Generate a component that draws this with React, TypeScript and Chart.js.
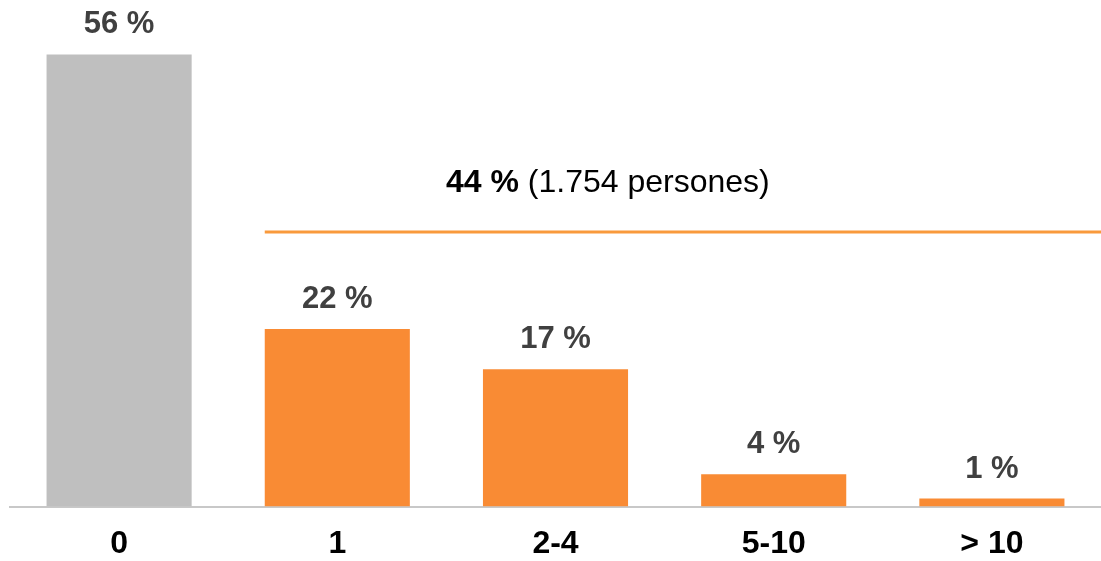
import React, { useEffect, useRef } from "react";
import { Chart, registerables } from "chart.js";

Chart.register(...registerables);

const categories = ["0", "1", "2-4", "5-10", "> 10"];
const shares = [56, 22, 17, 4, 1];
const barColors = ["#BFBFBF", "#F98B34", "#F98B34", "#F98B34", "#F98B34"];
const groupShare = 44;
const groupPersons = "1.754";
const groupLineLevel = 34;
const groupTextCenter = 2.24;

const FONT = "'Liberation Sans', Arial, sans-serif";

const labelPlugin = {
  id: "valueLabels",
  afterDatasetsDraw(chart: any) {
    const ctx = chart.ctx;
    const meta = chart.getDatasetMeta(0);
    ctx.save();
    ctx.font = `bold 31px ${FONT}`;
    ctx.fillStyle = "#404040";
    ctx.textAlign = "center";
    ctx.textBaseline = "alphabetic";
    meta.data.forEach((el: any, i: number) => {
      ctx.fillText(`${shares[i]} %`, el.x, el.y - 21);
    });
    ctx.restore();
  },
};

const groupPlugin = {
  id: "groupLine",
  afterDatasetsDraw(chart: any) {
    const ctx = chart.ctx;
    const meta = chart.getDatasetMeta(0);
    const first = meta.data[1];
    const xs = chart.scales.x;
    const ys = chart.scales.y;
    const y = ys.getPixelForValue(groupLineLevel);
    const x0 = first.x - first.width / 2;
    const x1 = chart.chartArea.right;
    ctx.save();
    ctx.strokeStyle = "#F99A3C";
    ctx.lineWidth = 3;
    ctx.beginPath();
    ctx.moveTo(x0, y);
    ctx.lineTo(x1, y);
    ctx.stroke();

    const boldPart = `${groupShare} %`;
    const regPart = ` (${groupPersons} persones)`;
    ctx.font = `bold 32px ${FONT}`;
    const wb = ctx.measureText(boldPart).width;
    ctx.font = `32px ${FONT}`;
    const wr = ctx.measureText(regPart).width;
    const cx = xs.getPixelForValue(groupTextCenter);
    const left = cx - (wb + wr) / 2;
    const ty = y - 40;
    ctx.fillStyle = "#000000";
    ctx.textAlign = "left";
    ctx.textBaseline = "alphabetic";
    ctx.font = `bold 32px ${FONT}`;
    ctx.fillText(boldPart, left, ty);
    ctx.font = `32px ${FONT}`;
    ctx.fillText(regPart, left + wb, ty);
    ctx.restore();
  },
};

export default function App() {
  const ref = useRef<HTMLCanvasElement | null>(null);
  useEffect(() => {
    if (!ref.current) return;
    const chart = new Chart(ref.current, {
      type: "bar",
      data: {
        labels: categories,
        datasets: [
          {
            data: shares,
            backgroundColor: barColors,
            borderWidth: 0,
            categoryPercentage: 1,
            barPercentage: 0.665,
          },
        ],
      },
      options: {
        responsive: false,
        animation: false,
        layout: { padding: { left: 10, right: 0, top: 6, bottom: -20 } },
        plugins: { legend: { display: false }, tooltip: { enabled: false } },
        scales: {
          x: {
            grid: { display: false, drawTicks: false },
            border: { display: true, color: "#C8C8C8", width: 2 },
            ticks: {
              color: "#000000",
              font: { family: FONT, size: 32, weight: "bold" },
              padding: 18,
            },
          },
          y: { display: false, min: 0, max: 62 },
        },
      },
      plugins: [labelPlugin, groupPlugin],
    });
    return () => chart.destroy();
  }, []);
  return (
    <div style={{ position: "absolute", left: 0, top: 0, width: 1101, height: 561, background: "#fff" }}>
      <canvas ref={ref} width={1101} height={561} style={{ display: "block" }} />
    </div>
  );
}
